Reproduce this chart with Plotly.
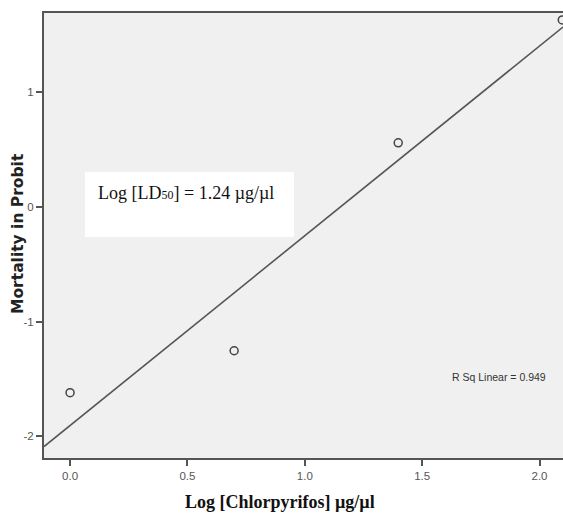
import numpy as np
import plotly.graph_objects as go

# Data
log_dose = [0.0, 0.699, 1.398, 2.097]
probit = [-1.62, -1.255, 0.558, 1.63]
x_ticks = [0.0, 0.5, 1.0, 1.5, 2.0]
x_ticktext = ["0.0", "0.5", "1.0", "1.5", "2.0"]
y_ticks = [-2, -1, 0, 1]
y_ticktext = ["-2", "-1", "0", "1"]
x_range = [-0.111, 2.10]
y_range = [-2.19, 1.69]

slope, intercept = np.polyfit(log_dose, probit, 1)
fit_x = np.array(x_range)
fit_y = slope * fit_x + intercept

axis_col = "#555555"
narrow = "Liberation Sans Narrow, Arial Narrow, sans-serif"
serif = "Liberation Serif, Times New Roman, serif"

fig = go.Figure()
fig.add_trace(go.Scatter(x=fit_x, y=fit_y, mode="lines",
                         line=dict(color="#555555", width=1.6),
                         showlegend=False, hoverinfo="skip"))
fig.add_trace(go.Scatter(x=log_dose, y=probit, mode="markers",
                         marker=dict(symbol="circle-open", size=8,
                                     color="#444444", line=dict(width=1.5, color="#444444")),
                         cliponaxis=False, showlegend=False))

# annotation box
fig.add_shape(type="rect", xref="paper", yref="paper",
              x0=(85 - 44) / 519, x1=(294 - 44) / 519,
              y0=(458 - 237) / 445, y1=(458 - 172) / 445,
              fillcolor="white", line=dict(width=0), layer="above")
fig.add_annotation(xref="paper", yref="paper",
                   x=(96 - 44) / 519, y=(458 - 193) / 445,
                   xanchor="left", yanchor="middle", showarrow=False,
                   text='Log [LD<span style="font-size:12px">50</span>] = 1.24 µg/µl',
                   font=dict(family=serif, size=18, color="#111111"))
fig.add_annotation(xref="paper", yref="paper",
                   x=(499 - 44) / 519, y=(458 - 377) / 445,
                   xanchor="center", yanchor="middle", showarrow=False,
                   text="R Sq Linear = 0.949",
                   font=dict(family=narrow, size=10.5, color="#333333"))
# axis titles
fig.add_annotation(xref="paper", yref="paper",
                   x=(280 - 44) / 519, y=(458 - 502) / 445,
                   xanchor="center", yanchor="middle", showarrow=False,
                   text="<b>Log [Chlorpyrifos] µg/µl</b>",
                   font=dict(family=serif, size=18, color="#111111"))
fig.add_annotation(xref="paper", yref="paper",
                   x=(18 - 44) / 519, y=(458 - 234) / 445,
                   xanchor="center", yanchor="middle", showarrow=False, textangle=-90,
                   text="<b>Mortality in Probit</b>",
                   font=dict(family="DejaVu Sans, Verdana, sans-serif", size=15.5, color="#222222"))

fig.update_layout(
    width=563, height=525,
    margin=dict(l=44, r=0, t=13, b=67),
    paper_bgcolor="white", plot_bgcolor="#f0f0f0",
    xaxis=dict(range=x_range, tickvals=x_ticks, ticktext=x_ticktext,
               showgrid=False, zeroline=False, showline=True, linecolor=axis_col,
               linewidth=2, mirror=True, ticks="outside", ticklen=6, tickwidth=1.5,
               tickcolor=axis_col,
               tickfont=dict(family=narrow, size=11.5, color="#555555")),
    yaxis=dict(range=y_range, tickvals=y_ticks, ticktext=y_ticktext,
               showgrid=False, zeroline=False, showline=True, linecolor=axis_col,
               linewidth=2, ticks="outside", ticklen=6, tickwidth=1.5,
               tickcolor=axis_col,
               tickfont=dict(family=narrow, size=11.5, color="#555555")),
)

fig.write_html("out.html")
